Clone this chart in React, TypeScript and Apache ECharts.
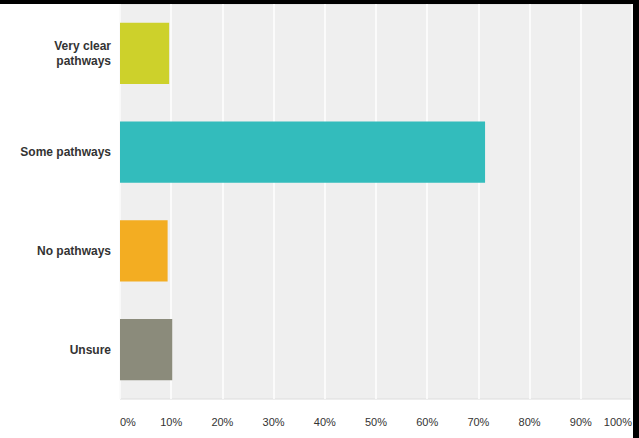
import React, { useEffect, useRef } from "react";
import * as echarts from "echarts";

const categories = ["Very clear\npathways", "Some pathways", "No pathways", "Unsure"];
const values = [9.6, 71.3, 9.3, 10.2];
const barColors = ["#cdd12b", "#33bcbc", "#f3ad22", "#8b8b7b"];
const tickMax = 100;
const tickStep = 10;

export default function App() {
  const ref = useRef<HTMLDivElement>(null);
  useEffect(() => {
    if (!ref.current) return;
    const chart = echarts.init(ref.current, null, { renderer: "svg" });
    chart.setOption({
      animation: false,
      backgroundColor: "#ffffff",
      grid: {
        left: 120,
        right: 7,
        top: 4,
        bottom: 39,
        show: true,
        backgroundColor: "#efefef",
        borderColor: "#dcdcdc",
        borderWidth: 1,
      },
      xAxis: {
        type: "value",
        min: 0,
        max: tickMax,
        interval: tickStep,
        axisLine: { show: false },
        axisTick: { show: false },
        splitLine: { show: true, lineStyle: { color: "#ffffff", width: 1.5 } },
        axisLabel: {
          formatter: "{value}%",
          color: "#333333",
          fontFamily: "Liberation Sans, Arial, sans-serif",
          fontSize: 11,
          margin: 17,
          align: "center",
          alignMinLabel: "left",
          alignMaxLabel: "right",
        },
      },
      yAxis: {
        type: "category",
        data: categories,
        inverse: true,
        axisLine: { show: false },
        axisTick: { show: false },
        splitLine: { show: false },
        axisLabel: {
          color: "#333333",
          fontFamily: "Liberation Sans, Arial, sans-serif",
          fontWeight: "bold",
          fontSize: 12,
          margin: 9,
          lineHeight: 15,
        },
      },
      series: [
        {
          type: "bar",
          data: values.map((v, i) => ({ value: v, itemStyle: { color: barColors[i] } })),
          barWidth: "62%",
        },
      ],
      graphic: [
        { type: "rect", left: 0, top: 0, shape: { width: 639, height: 4 }, style: { fill: "#000" }, z: 100 },
        { type: "rect", right: 0, top: 0, shape: { width: 6, height: 438 }, style: { fill: "#000" }, z: 100 },
      ],
    });
    return () => chart.dispose();
  }, []);
  return (
    <div
      ref={ref}
      style={{ position: "fixed", left: 0, top: 0, width: 639, height: 438 }}
    />
  );
}
